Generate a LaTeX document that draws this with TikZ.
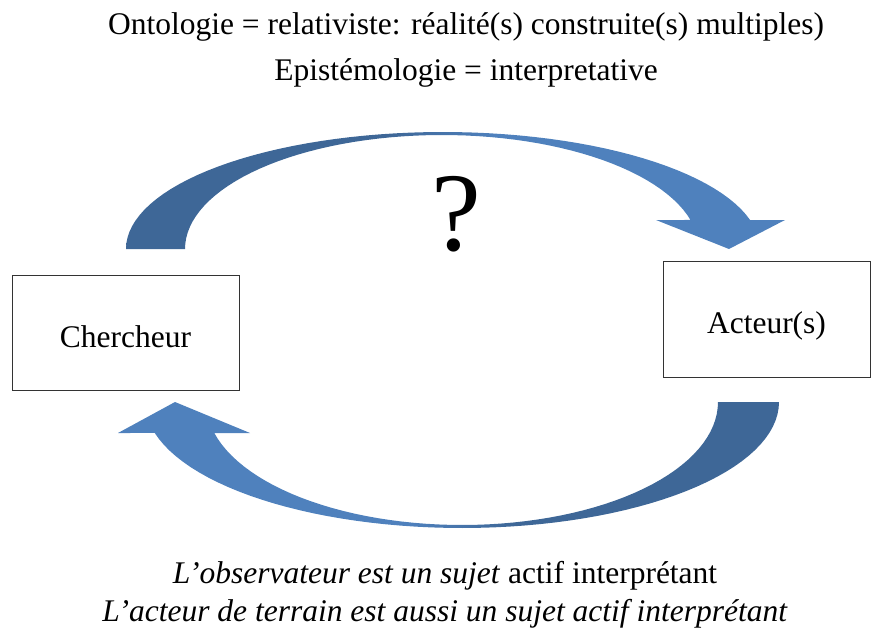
\documentclass[tikz,border=0pt]{standalone}
\usepackage{fontspec}
\setmainfont{Liberation Serif}
\usetikzlibrary{positioning}
\definecolor{arrowdark}{HTML}{3E6797}
\definecolor{arrowlight}{HTML}{4F81BD}
% the back half of each curved arrow is darker
\pgfdeclarehorizontalshading{topshade}{100bp}{color(0bp)=(arrowdark); color(45bp)=(arrowdark); color(53bp)=(arrowlight); color(100bp)=(arrowlight)}
\pgfdeclarehorizontalshading{bottomshade}{100bp}{color(0bp)=(arrowlight); color(47bp)=(arrowlight); color(55bp)=(arrowdark); color(100bp)=(arrowdark)}
\tikzset{
    box/.style={draw=black!80, line width=0.8pt, inner sep=0pt, text height=36pt, text depth=7pt, font=\fontsize{31.5}{36}\selectfont}, % the two boxes
    titletext/.style={anchor=base, inner sep=0pt, font=\fontsize{31.5}{36}\selectfont}, % lines above
    notetext/.style={anchor=base, inner sep=0pt, font=\fontsize{31.5}{36}\selectfont}, % lines below
}

\begin{document}
\begin{tikzpicture}[x=1pt, y=-1pt]
    \useasboundingbox (0,0) rectangle (871,634);

    \node[titletext] (onto) at (466,35) {Ontologie = relativiste: réalité(s) construite(s) multiples)};
    \node[titletext, below=46pt of onto.base, anchor=base] (episte) {Epistémologie = interpretative};

    \node[box, minimum width=227pt, minimum height=115pt] (chercheur) at (125.5,332.5) {Chercheur};
    \node[box, minimum width=207pt, minimum height=116pt] (acteur) at (766.5,319) {Acteur(s)};

    \node[anchor=base, inner sep=0pt, font=\fontsize{112}{116}\selectfont] (question) at (456,250) {?};

    % upper arrow, chercheur -> acteur
    \shade[shading=topshade]
        plot[domain=180:14.35, samples=60] ({443+317*cos(\x)}, {249-117*sin(\x)})
        -- (785,220) -- (729,249) -- (656,220)
        -- plot[domain=14.74:180, samples=60] ({442+257*cos(\x)}, {249-114*sin(\x)})
        -- cycle;

    % lower arrow, acteur -> chercheur
    \shade[shading=bottomshade]
        plot[domain=0:165.76, samples=60] ({462+317*cos(\x)}, {402+126*sin(\x)})
        -- (118,433) -- (175,402) -- (250,433)
        -- plot[domain=165.4:0, samples=60] ({462+256*cos(\x)}, {402+123*sin(\x)})
        -- cycle;

    \node[notetext] (observ) at (445,583) {\textit{L’observateur est un sujet} actif interprétant};
    \node[notetext, below=38pt of observ.base, anchor=base] (terrain) {\textit{L’acteur de terrain est aussi un sujet actif interprétant}};
\end{tikzpicture}
\end{document}
